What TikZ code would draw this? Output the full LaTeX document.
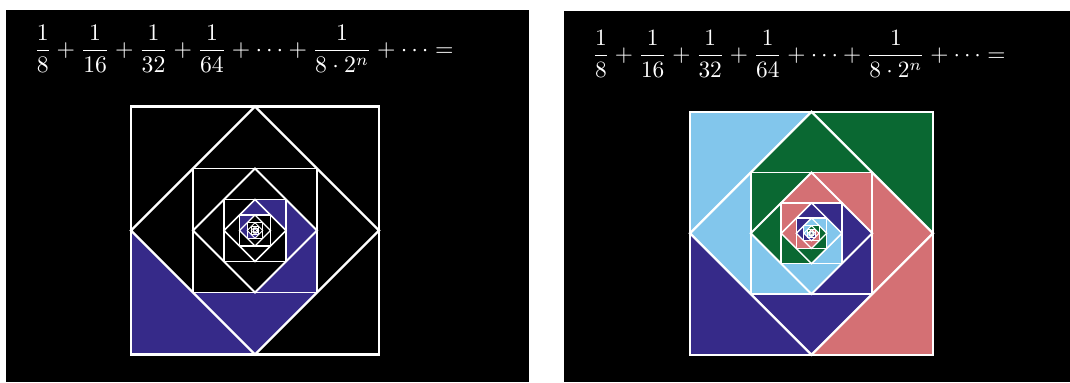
\documentclass[tikz,border=0pt]{standalone}
\usepackage{amsmath}
\usepackage{tikz}
\definecolor{navy}{RGB}{54,42,137}
\definecolor{skyb}{RGB}{130,198,236}
\definecolor{leaf}{RGB}{10,104,50}
\definecolor{rose}{RGB}{212,112,116}
\newcommand{\sumtext}{$\displaystyle \frac{1}{8}+\frac{1}{16}+\frac{1}{32}+\frac{1}{64}+\cdots+\frac{1}{8\cdot 2^n}+\cdots=$}

\begin{document}
\begin{tikzpicture}[x=0.02cm, y=0.02cm,
  panel/.style={fill=black},
  frame/.style={draw=white, line join=miter},
  sumtxt/.style={text=white, inner sep=0pt, scale=1.35},
]
  \useasboundingbox (0,0) rectangle (1070,382);
  \fill[white] (0,0) rectangle (1070,382);
  \fill[panel] (6,0) rectangle (529,372);
  \fill[panel] (564,0) rectangle (1070,371);

  \node[sumtxt] (sumL) at (243.7,333) {\sumtext};
  \node[sumtxt, scale=0.985] (sumR) at (799,328.1) {\sumtext};

  % left square: only the dark blue pieces
  \begin{scope}[shift={(255,151.5)}]
    \foreach \j in {0,...,17} {
      \pgfmathsetmacro{\R}{124*2^(0.5-0.5*\j)}
      \pgfmathsetmacro{\Rb}{\R/sqrt(2)}
      \fill[navy] (225+45*\j:\R) -- (180+45*\j:\Rb) -- (270+45*\j:\Rb) -- cycle;
    }
    \foreach \k in {0,...,6} {
      \pgfmathsetmacro{\a}{124/2^\k}
      \pgfmathsetmacro{\lw}{max(0.15,1.3*0.82^\k)}
      \draw[frame, line width=\lw pt] (-\a,-\a) rectangle (\a,\a);
      \draw[frame, line width=\lw pt] (\a,0) -- (0,\a) -- (-\a,0) -- (0,-\a) -- cycle;
    }
  \end{scope}

  % right square: four colours turning round
  \begin{scope}[shift={(811.5,148.7)}]
    \foreach \j in {0,...,17} {
      \pgfmathsetmacro{\R}{121.5*2^(0.5-0.5*\j)}
      \pgfmathsetmacro{\Rb}{\R/sqrt(2)}
      \foreach \c/\b in {navy/225, skyb/135, leaf/45, rose/315}
        \fill[\c] (\b+45*\j:\R) -- (\b-45+45*\j:\Rb) -- (\b+45+45*\j:\Rb) -- cycle;
    }
    \foreach \k in {0,...,6} {
      \pgfmathsetmacro{\a}{121.5/2^\k}
      \pgfmathsetmacro{\lw}{max(0.15,1.3*0.82^\k)}
      \draw[frame, line width=\lw pt] (-\a,-\a) rectangle (\a,\a);
      \draw[frame, line width=\lw pt] (\a,0) -- (0,\a) -- (-\a,0) -- (0,-\a) -- cycle;
    }
  \end{scope}
\end{tikzpicture}
\end{document}
